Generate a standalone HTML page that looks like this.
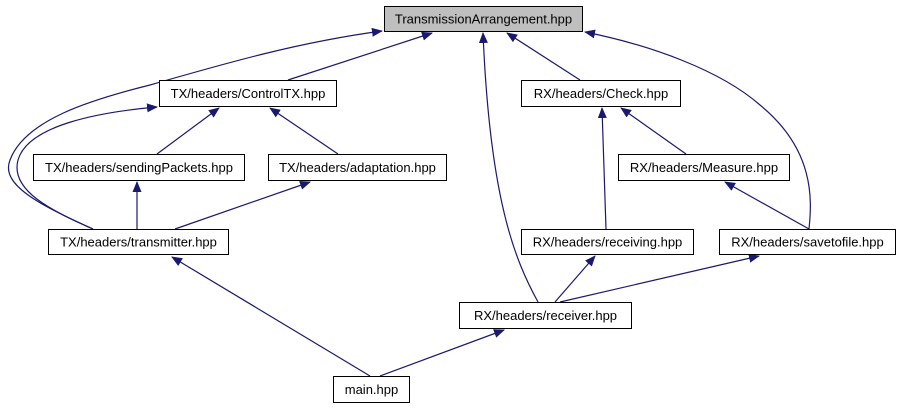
<!DOCTYPE html>
<html><head><style>body{margin:0;background:#fff}svg{display:block}text{font-family:"Liberation Sans",sans-serif;font-size:13px;fill:#000}</style></head>
<body>
<svg width="900" height="411" viewBox="0 0 900 411">
<defs><marker id="a" markerWidth="11" markerHeight="9" refX="10" refY="4.5" orient="auto" markerUnits="userSpaceOnUse"><path d="M0,0 L11,4.5 L0,9 z" fill="#191970"/></marker></defs>
<g fill="none" stroke="#191970" stroke-width="1.2" marker-end="url(#a)">
<path d="M288,80 L432,33"/>
<path d="M93,229 C40,205 0,185 10,160 C25,120 90,100 150,85 C230,62 300,42 382,31"/>
<path d="M93,229 C50,210 10,190 18,160 C28,125 100,112 157,107"/>
<path d="M157,154 L219,108"/>
<path d="M338,154 L270,108"/>
<path d="M137,229 L137,182"/>
<path d="M175,229 L310,182"/>
<path d="M370,376 L172,257"/>
<path d="M580,80 L507,33"/>
<path d="M606,229 L602,108"/>
<path d="M686,154 L621,108"/>
<path d="M809,229 L725,182"/>
<path d="M809,229 C812,200 815,150 760,105 C720,70 650,45 585,32"/>
<path d="M555,302 L595,256"/>
<path d="M538,302 C515,260 490,200 483,33"/>
<path d="M560,302 L759,256"/>
<path d="M380,376 L504,330"/>
</g>
<g stroke="#000" stroke-width="1" fill="#fff">
<rect x="384.5" y="6.5" width="198" height="25" fill="#bfbfbf"/>
<rect x="159.5" y="80.5" width="177" height="26"/>
<rect x="521.5" y="80.5" width="159" height="26"/>
<rect x="33.5" y="154.5" width="211" height="26"/>
<rect x="268.5" y="154.5" width="178" height="26"/>
<rect x="618.5" y="154.5" width="171" height="26"/>
<rect x="48.5" y="229.5" width="180" height="25"/>
<rect x="521.5" y="229.5" width="172" height="25"/>
<rect x="719.5" y="229.5" width="176" height="25"/>
<rect x="459.5" y="302.5" width="172" height="26"/>
<rect x="333.5" y="376.5" width="76" height="26"/>
</g>
<g text-anchor="middle">
<text x="483.5" y="23.5">TransmissionArrangement.hpp</text>
<text x="248" y="98">TX/headers/ControlTX.hpp</text>
<text x="601" y="98">RX/headers/Check.hpp</text>
<text x="139" y="172">TX/headers/sendingPackets.hpp</text>
<text x="357.5" y="172">TX/headers/adaptation.hpp</text>
<text x="704" y="172">RX/headers/Measure.hpp</text>
<text x="138.5" y="246.5">TX/headers/transmitter.hpp</text>
<text x="607.5" y="246.5">RX/headers/receiving.hpp</text>
<text x="807.5" y="246.5">RX/headers/savetofile.hpp</text>
<text x="545.5" y="320">RX/headers/receiver.hpp</text>
<text x="371.5" y="394">main.hpp</text>
</g>
</svg>
</body></html>
